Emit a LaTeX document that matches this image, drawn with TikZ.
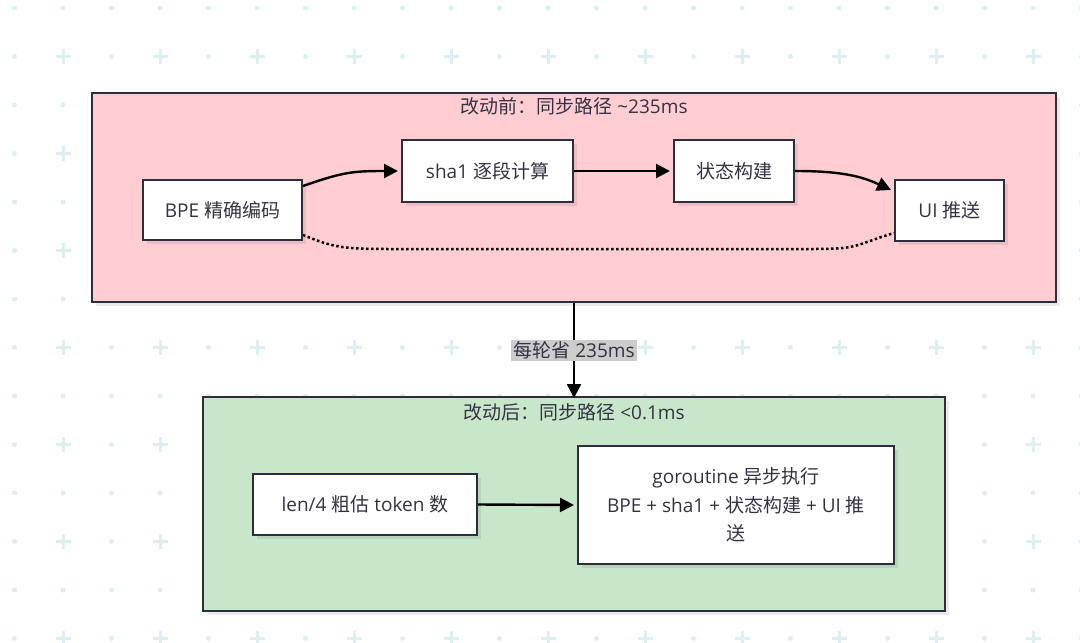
\documentclass[tikz,border=0pt]{standalone}
\usepackage{fontspec}
\setmainfont{Open Sans}
\newfontfamily\cjkfont{Noto Sans CJK SC}
\newcommand{\cj}[1]{{\cjkfont #1}}
\usetikzlibrary{arrows.meta,shadows}
\definecolor{gridc}{RGB}{220,240,243}
\definecolor{edgec}{RGB}{45,45,64}
\definecolor{txtc}{RGB}{51,51,68}
\definecolor{pinkc}{RGB}{255,205,210}
\definecolor{greenc}{RGB}{200,230,201}
\definecolor{labelc}{RGB}{204,204,204}
\tikzset{
  shad/.style={drop shadow={shadow xshift=4pt, shadow yshift=-4pt, fill=black, opacity=0.08}},
  container/.style={draw=edgec, line width=2pt, inner sep=0pt, shad},
  stepbox/.style={draw=edgec, line width=2pt, fill=white, inner sep=0pt, align=center, text=txtc, shad,
    font=\fontsize{19pt}{28.5pt}\selectfont},
  titletxt/.style={text=txtc, inner sep=0pt, font=\fontsize{19pt}{22pt}\selectfont},
  conn/.style={line width=2.4pt, black, -{Triangle[length=14pt,width=14pt]}},
  dotconn/.style={line width=2.5pt, black, dash pattern=on 2.5pt off 2.5pt},
}
\begin{document}
\begin{tikzpicture}[x=1pt,y=-1pt]
\useasboundingbox (0,0) rectangle (1080,643);
\fill[white] (0,0) rectangle (1080,643);
% background grid
\foreach \i in {0,...,22}{
  \foreach \j in {0,...,13}{
    \pgfmathsetmacro{\gx}{14.5+48.5*\i}
    \pgfmathsetmacro{\gy}{8+48.5*\j}
    \pgfmathtruncatemacro{\odd}{mod(\i,2)*mod(\j,2)}
    \ifnum\odd=1
      \draw[gridc, line width=3pt] (\gx-7.5,\gy) -- (\gx+7.5,\gy) (\gx,\gy-7.5) -- (\gx,\gy+7.5);
    \else
      \fill[gridc] (\gx,\gy) circle (2.5);
    \fi
  }
}
% containers
\node[container, fill=pinkc, minimum width=964pt, minimum height=209pt] (pre) at (574,197.5) {};
\node[container, fill=greenc, minimum width=742pt, minimum height=214pt] (post) at (574,504) {};
\node[titletxt] (pretitle) at (574,106) {\cj{改动前：同步路径} \textasciitilde235ms};
\node[titletxt] (posttitle) at (574,412) {\cj{改动后：同步路径} <0.1ms};
% step boxes
\node[stepbox, minimum width=159pt, minimum height=60pt] (bpe) at (222.5,210) {BPE \cj{精确编码}};
\node[stepbox, minimum width=171pt, minimum height=62pt] (sha) at (487.5,171) {sha1 \cj{逐段计算}};
\node[stepbox, minimum width=120pt, minimum height=62pt] (state) at (734,171) {\cj{状态构建}};
\node[stepbox, minimum width=109pt, minimum height=61pt] (ui) at (949.5,210.5) {UI \cj{推送}};
\node[stepbox, minimum width=224pt, minimum height=61pt] (len) at (365,504.5) {len/4 \cj{粗估} token \cj{数}};
\node[stepbox, minimum width=316pt, minimum height=118pt] (gor) at (736,505) {goroutine \cj{异步执行}\\BPE + sha1 + \cj{状态构建} + UI \cj{推}\\\cj{送}};
% connectors
\draw[conn] ([yshift=-7pt]bpe.north east) .. controls +(40,-14) and +(-45,0) .. ([xshift=-3pt]sha.west);
\draw[conn] (sha.east) -- ([xshift=-3pt]state.west);
\draw[conn] (state.east) .. controls +(45,0) and +(-30,-14) .. ([xshift=-3pt,yshift=-11pt]ui.north west);
\coordinate (d1) at (390,249);
\coordinate (d2) at (815,249);
\draw[dotconn] ([yshift=6pt]bpe.south east) .. controls +(30,12) and +(-50,0) .. (d1) -- (d2) .. controls +(45,0) and +(-40,12) .. ([yshift=9pt]ui.south west);
\draw[conn] (pre.south) -- node[fill=labelc, text=txtc, inner sep=2pt, font=\fontsize{19pt}{22pt}\selectfont] (lbl) {\cj{每轮省} 235ms} ([yshift=-2pt]post.north);
\draw[conn] (len.east) -- ([xshift=-3pt]gor.west);
\end{tikzpicture}
\end{document}
